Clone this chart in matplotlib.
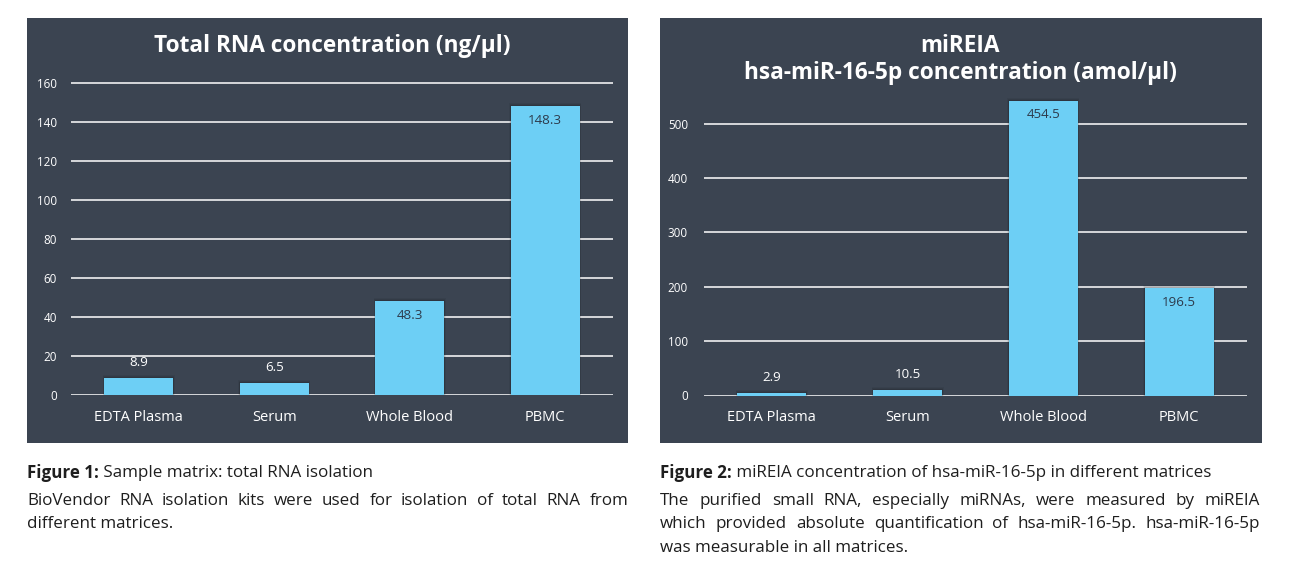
import matplotlib
matplotlib.use("Agg")
import matplotlib.pyplot as plt
from matplotlib.patches import Rectangle

plt.rcParams['font.family'] = ['Open Sans', 'DejaVu Sans']

# ---------------- data ----------------
categories = ["EDTA Plasma", "Serum", "Whole Blood", "PBMC"]

rna_values = [8.9, 6.5, 48.3, 148.3]
rna_labels = ["8.9", "6.5", "48.3", "148.3"]
rna_ticks = [0, 20, 40, 60, 80, 100, 120, 140, 160]

mir_values = [4.5, 10.5, 542, 197]          # bar heights as drawn
mir_labels = ["2.9", "10.5", "454.5", "196.5"]  # printed values
mir_ticks = [0, 100, 200, 300, 400, 500]

title1 = "Total RNA concentration (ng/µl)"
title2a = "miREIA"
title2b = "hsa-miR-16-5p concentration (amol/µl)"

cap1_bold = "Figure 1:"
cap1_rest = " Sample matrix: total RNA isolation"
cap1_body = ["BioVendor RNA isolation kits were used for isolation of total RNA from",
             "different matrices."]
cap2_bold = "Figure 2:"
cap2_rest = " miREIA concentration of hsa-miR-16-5p in different matrices"
cap2_body = ["The purified small RNA, especially miRNAs, were measured by miREIA",
             "which provided absolute quantification of hsa-miR-16-5p. hsa-miR-16-5p",
             "was measurable in all matrices."]

# ---------------- styling ----------------
W, H = 1297, 588
BG = "#3b4451"
BAR = "#6dcff5"
GRID = "#ffffff"
TXT = "#ffffff"
INTXT = "#2d3a4b"
CAPTXT = "#1e1e1e"

fig = plt.figure(figsize=(W / 100, H / 100), dpi=100)
fig.patch.set_facecolor("white")
renderer = fig.canvas.get_renderer()


def fx(px):
    return px / W


def fy(py):
    return 1 - py / H


def text_width(t):
    return t.get_window_extent(renderer=renderer).width


def fit_size(s, target_px, weight="normal", base=10):
    t = fig.text(0, 0, s, fontsize=base, fontweight=weight)
    w = text_width(t)
    t.remove()
    return base * target_px / w


def panel(x0, x1, y0, y1):
    fig.patches.append(Rectangle((fx(x0), fy(y1)), fx(x1 - x0), (y1 - y0) / H,
                                 transform=fig.transFigure, facecolor=BG,
                                 edgecolor="none", zorder=-5))


panel(27, 628, 18, 443)
panel(660, 1262, 18, 443)

TICKFS = fit_size("160", 20)
CATFS = fit_size("EDTA Plasma", 89)
VALFS = fit_size("148.3", 34)


def make_axes(x0, x1, y_zero, y_top):
    ax = fig.add_axes([fx(x0), fy(y_zero), fx(x1 - x0), (y_zero - y_top) / H])
    ax.set_zorder(2)
    ax.set_facecolor("none")
    for s in ax.spines.values():
        s.set_visible(False)
    return ax


def draw_chart(ax, values, labels, ticks, ymax, pad_px):
    xs = list(range(len(categories)))
    ax.set_xlim(-0.5, len(categories) - 0.5)
    ax.set_ylim(0, ymax)
    ax.set_yticks(ticks)
    ax.set_yticklabels([str(t) for t in ticks], color=TXT, fontsize=TICKFS)
    ax.set_xticks(xs)
    ax.set_xticklabels(categories, color=TXT, fontsize=CATFS)
    ax.tick_params(axis="y", length=0, pad=pad_px * 0.72)
    ax.tick_params(axis="x", length=0, pad=10.5)
    ax.yaxis.grid(True, color=GRID, linewidth=1.1, zorder=1)
    ax.set_axisbelow(True)
    # soft shadow
    for k, a in [(0.14, 0.05), (0.09, 0.07), (0.045, 0.09)]:
        ax.bar(xs, [v + ymax * k * 0.07 for v in values], width=0.51 + k * 0.14,
               color="black", alpha=a, zorder=2, linewidth=0)
    bars = ax.bar(xs, values, width=0.51, color=BAR, zorder=3, linewidth=0)
    for b, v, lab in zip(bars, values, labels):
        cx = b.get_x() + b.get_width() / 2
        if v > 0.2 * ymax:
            ax.annotate(lab, (cx, v), xytext=(0, -10), textcoords="offset points",
                        ha="center", va="center", color=INTXT, fontsize=VALFS, zorder=5)
        else:
            ax.annotate(lab, (cx, v), xytext=(0, 11), textcoords="offset points",
                        ha="center", va="center", color=TXT, fontsize=VALFS, zorder=5)


ax1 = make_axes(71, 613, 395.3, 83.3 - 1.95 * 1)
draw_chart(ax1, rna_values, rna_labels, rna_ticks, 161, 14)

ax2 = make_axes(704, 1247, 395.5, 395.5 - 0.5435 * 570)
draw_chart(ax2, mir_values, mir_labels, mir_ticks, 570, 16)

TITLEFS = fit_size(title1, 358, weight="bold")
TITLEFS2 = fit_size(title2b, 434, weight="bold")
fig.text(fx(332), fy(46), title1, ha="center", va="center", color=TXT,
         fontsize=TITLEFS, fontweight="bold")
fig.text(fx(960), fy(46), title2a, ha="center", va="center", color=TXT,
         fontsize=TITLEFS2, fontweight="bold")
fig.text(fx(960), fy(73), title2b, ha="center", va="center", color=TXT,
         fontsize=TITLEFS2, fontweight="bold")

# ---------------- captions ----------------
_t1 = fig.text(0, 0, cap1_bold, fontsize=10, fontweight="bold")
_t2 = fig.text(0, 0, cap1_rest, fontsize=10)
CAPFS = 10 * 347 / (text_width(_t1) + text_width(_t2))
_t1.remove()
_t2.remove()


def heading(x0, y, bold, rest):
    t1 = fig.text(fx(x0), fy(y), bold, ha="left", va="center", color=CAPTXT,
                  fontsize=CAPFS, fontweight="bold")
    w = text_width(t1)
    fig.text(fx(x0 + w), fy(y), rest, ha="left", va="center", color=CAPTXT,
             fontsize=CAPFS)


def justified(x0, x1, y, line, justify=True):
    if not justify:
        fig.text(fx(x0), fy(y), line, ha="left", va="center", color=CAPTXT,
                 fontsize=CAPFS)
        return
    words = line.split(" ")
    objs = [fig.text(0, fy(y), w_, ha="left", va="center", color=CAPTXT,
                     fontsize=CAPFS) for w_ in words]
    widths = [text_width(o) for o in objs]
    gap = ((x1 - x0) - sum(widths)) / (len(words) - 1)
    x = x0
    for o, w_ in zip(objs, widths):
        o.set_x(fx(x))
        x += w_ + gap


heading(27, 473, cap1_bold, cap1_rest)
for i, line in enumerate(cap1_body):
    justified(27, 628, 501 + 23.5 * i, line, justify=(i < len(cap1_body) - 1))

heading(660, 473, cap2_bold, cap2_rest)
for i, line in enumerate(cap2_body):
    justified(660, 1260, 501 + 23.5 * i, line, justify=(i < len(cap2_body) - 1))

fig.savefig("out.png", dpi=100, facecolor="white")
